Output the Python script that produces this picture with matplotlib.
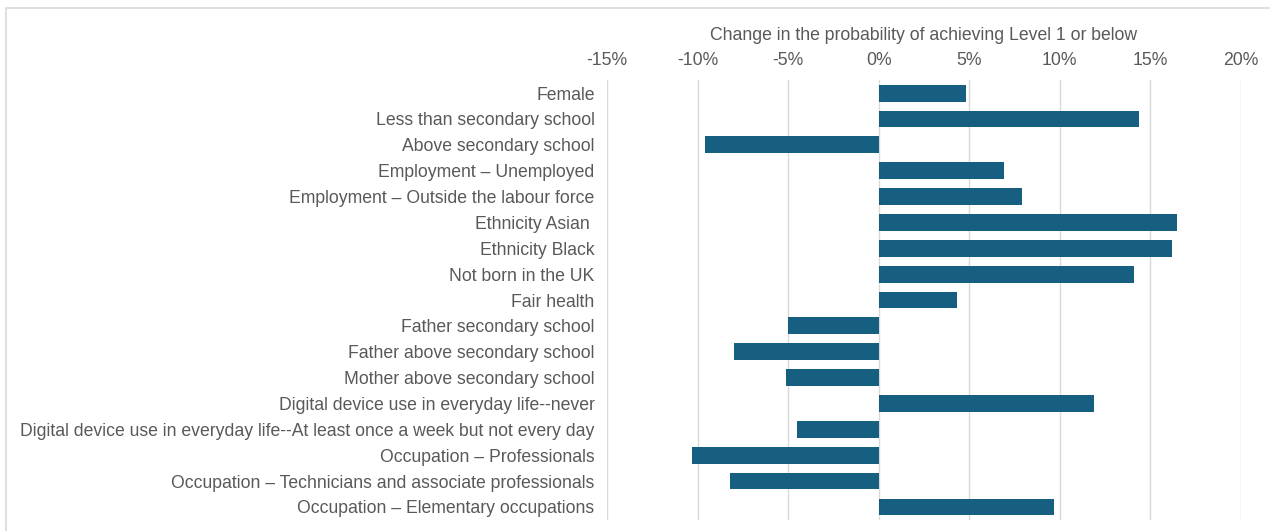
"""Horizontal bar chart: change in probability of achieving Level 1 or below."""

import matplotlib.pyplot as plt
from matplotlib.patches import Rectangle
from matplotlib.ticker import FuncFormatter, MultipleLocator

plt.rcParams["font.family"] = ["Liberation Sans", "DejaVu Sans"]

categories = [
    "Female",
    "Less than secondary school",
    "Above secondary school",
    "Employment \u2013 Unemployed",
    "Employment \u2013 Outside the labour force",
    "Ethnicity Asian ",
    "Ethnicity Black",
    "Not born in the UK",
    "Fair health",
    "Father secondary school",
    "Father above secondary school",
    "Mother above secondary school",
    "Digital device use in everyday life--never",
    "Digital device use in everyday life--At least once a week but not every day",
    "Occupation \u2013 Professionals",
    "Occupation \u2013 Technicians and associate professionals",
    "Occupation \u2013 Elementary occupations",
]
change_pct = [4.8, 14.4, -9.6, 6.9, 7.9, 16.5, 16.2, 14.1, 4.3,
              -5.0, -8.0, -5.1, 11.9, -4.5, -10.3, -8.2, 9.7]

BAR_COLOR = "#175f80"
TEXT_COLOR = "#595959"
GRID_COLOR = "#d9d9d9"
FONT_SIZE = 12.7

fig = plt.figure(figsize=(12.7, 5.31), dpi=100)
ax = fig.add_axes([0.478, 0.021, 0.499, 0.828])

positions = list(range(len(categories)))
ax.barh(positions, change_pct, height=0.65, color=BAR_COLOR, zorder=3)
ax.set_ylim(len(categories) - 0.5, -0.5)
ax.set_yticks(positions)
ax.set_yticklabels(categories)

ax.set_xlim(-15, 20)
ax.xaxis.set_major_locator(MultipleLocator(5))
ax.xaxis.set_major_formatter(FuncFormatter(lambda v, _: f"{v:.0f}%"))
ax.xaxis.tick_top()
ax.xaxis.set_label_position("top")
ax.set_xlabel("Change in the probability of achieving Level 1 or below",
              fontsize=FONT_SIZE, color=TEXT_COLOR, labelpad=9)

ax.tick_params(axis="both", length=0, labelsize=FONT_SIZE, labelcolor=TEXT_COLOR)
ax.tick_params(axis="y", pad=9)
ax.tick_params(axis="x", pad=8)
ax.grid(axis="x", color=GRID_COLOR, linewidth=1, zorder=0)
for spine in ax.spines.values():
    spine.set_visible(False)

# light frame around the chart area
fig.add_artist(Rectangle((6 / 1270, -0.1), 1.2, 1 - 8 / 531 + 0.1,
                         transform=fig.transFigure, fill=False,
                         edgecolor="#d9d9d9", linewidth=1.2))

fig.savefig("out.png", dpi=100)
